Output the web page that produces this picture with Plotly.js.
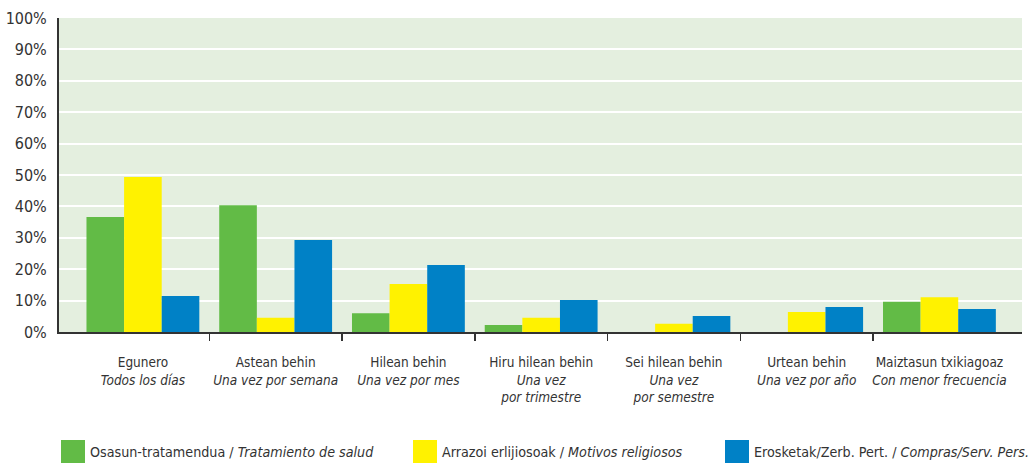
<!DOCTYPE html>
<html>
<head>
<meta charset="utf-8">
<script src="https://cdn.plot.ly/plotly-3.0.1.min.js"></script>
<style>html,body{margin:0;padding:0;background:#fff;}#chart{width:1031px;height:464px;}</style>
</head>
<body>
<div id="chart"></div>
<script>
// ---- data ----
const categoriesEu = ["Egunero","Astean behin","Hilean behin","Hiru hilean behin","Sei hilean behin","Urtean behin","Maiztasun txikiagoaz"];
const categoriesEs = ["Todos los días","Una vez por semana","Una vez por mes","Una vez<br>por trimestre","Una vez<br>por semestre","Una vez por año","Con menor frecuencia"];
const seriesNamesEu = ["Osasun-tratamendua","Arrazoi erlijiosoak","Erosketak/Zerb. Pert."];
const seriesNamesEs = ["Tratamiento de salud","Motivos religiosos","Compras/Serv. Pers."];
const salud = [36.6, 40.4, 6.0, 2.2, 0, 0, 9.6];
const religiosos = [49.4, 4.5, 15.3, 4.5, 2.6, 6.4, 11.1];
const compras = [11.5, 29.3, 21.3, 10.2, 5.1, 8.0, 7.3];
const yTickVals = [0,10,20,30,40,50,60,70,80,90,100];

// ---- styling ----
const colors = ["#62bb46", "#fff200", "#0081c6"];
const FONT = '"DejaVu Sans Condensed", "DejaVu Sans", sans-serif';
const W = 1031, H = 464;
const L = 59, R = 1022, T = 18, B = 332;
const px = x => (x - L) / (R - L);
const py = y => (B - y) / (B - T);

const idx = categoriesEu.map((_, i) => i);
const seriesVals = [salud, religiosos, compras];
const traces = seriesVals.map((vals, k) => ({
  type: 'bar', x: idx, y: vals, name: seriesNamesEu[k],
  marker: {color: colors[k], line: {width: 0}},
  hoverinfo: 'skip', showlegend: false
}));
traces.push({type:'scatter', x:[0], y:[0], xaxis:'x2', mode:'markers', marker:{opacity:0}, showlegend:false, hoverinfo:'skip'});

const xr = [-0.632, 6.622];
const tickText = categoriesEu.map((c, i) => c + '<br><i>' + categoriesEs[i] + '</i>');

const legendX = [61, 413, 725];
const shapes = [];
const annotations = [];
legendX.forEach((lx, k) => {
  shapes.push({type:'rect', xref:'paper', yref:'paper', x0: px(lx), x1: px(lx+24), y0: py(463), y1: py(440), fillcolor: colors[k], line:{width:0}});
  annotations.push({xref:'paper', yref:'paper', x: px(lx+27), y: py(452), xanchor:'left', yanchor:'middle', showarrow:false,
    text: seriesNamesEu[k] + ' / <i>' + seriesNamesEs[k] + '</i>', font:{family:FONT, size:14.2, color:'#333'}});
});

const layout = {
  width: W, height: H,
  margin: {l: L, r: W - R, t: T, b: H - B, pad: 0},
  paper_bgcolor: '#ffffff', plot_bgcolor: '#e4efdf',
  barmode: 'group', bargap: 0.15, bargroupgap: 0,
  font: {family: FONT, color: '#333'},
  showlegend: false,
  xaxis: {
    type: 'linear', range: xr, tickmode: 'array', tickvals: idx, ticktext: tickText, tickangle: 0,
    ticks: '', showgrid: false, zeroline: false, showline: true, linecolor: '#333', linewidth: 2,
    tickfont: {family: FONT, size: 13.5, color: '#333'}, ticklabelstandoff: 17, fixedrange: true
  },
  xaxis2: {
    overlaying: 'x', type: 'linear', range: xr, tickmode: 'array', tickvals: [0.5,1.5,2.5,3.5,4.5,5.5],
    ticks: 'outside', ticklen: 8, tickwidth: 1.5, tickcolor: '#333', showticklabels: false,
    showgrid: false, zeroline: false, showline: false, side: 'bottom', anchor: 'y'
  },
  yaxis: {
    range: [0, 100], tickmode: 'array', tickvals: yTickVals, ticktext: yTickVals.map(v => v + '%'),
    showgrid: true, gridcolor: '#ffffff', gridwidth: 2, zeroline: false,
    showline: true, linecolor: '#333', linewidth: 2, ticks: '',
    tickfont: {family: FONT, size: 16, color: '#333'}, ticklabelstandoff: 7, fixedrange: true
  },
  shapes: shapes,
  annotations: annotations
};

Plotly.newPlot('chart', traces, layout, {displayModeBar: false, staticPlot: true});
</script>
</body>
</html>
